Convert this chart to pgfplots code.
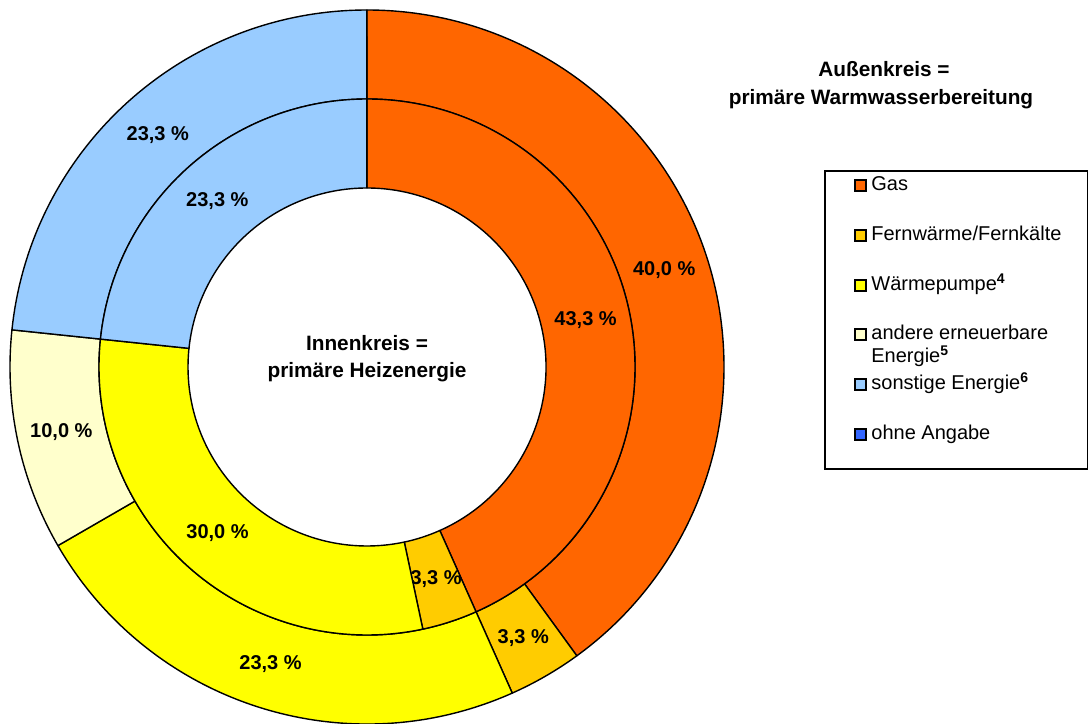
\documentclass[border=0pt]{standalone}
\usepackage{fontspec}
\setmainfont{Liberation Sans}
\usepackage{pgfplots}
\pgfplotsset{compat=1.18}

\definecolor{cGas}{HTML}{FF6600}
\definecolor{cFern}{HTML}{FFCC00}
\definecolor{cWP}{HTML}{FFFF00}
\definecolor{cEE}{HTML}{FFFFCC}
\definecolor{cSonst}{HTML}{99CCFF}
\definecolor{cOhne}{HTML}{3366FF}

% ring: #1 inner radius (pt), #2 outer radius (pt), #3 list value/colour
\newcommand{\ring}[3]{%
  \gdef\cum{0}%
  \pgfmathsetmacro{\W}{#2-#1}%
  \pgfmathsetmacro{\Rm}{(#1+#2)/2}%
  \foreach \v/\c in {#3}{%
    \ifdim\v pt>0pt
      \pgfmathsetmacro{\aone}{90-3.6*\cum}%
      \pgfmathsetmacro{\atwo}{90-3.6*(\cum+\v)}%
      \pgfmathsetmacro{\aback}{\atwo+180}%
      \pgfmathsetmacro{\amid}{(\aone+\atwo)/2}%
      \filldraw[fill=\c, draw=black, line width=0.7pt, line join=round]
        (axis cs:367,357) ++(\aone:#2 pt)
        arc[start angle=\aone, end angle=\atwo, radius=#2 pt]
        -- ++(\aback:\W pt)
        arc[start angle=\atwo, end angle=\aone, radius=#1 pt] -- cycle;
      \path (axis cs:367,357) ++(\amid:\Rm pt) node[font=\bfseries]
        {\pgfmathprintnumber[fixed,fixed zerofill,precision=1,use comma,assume math mode=true]{\v}~\%};
    \fi
    \pgfmathsetmacro{\newcum}{\cum+\v}%
    \global\let\cum\newcum
  }%
}

\newcommand{\legitem}[3]{% #1 baseline px, #2 colour, #3 text
  \filldraw[fill=#2, draw=black, line width=0.7pt]
    (axis cs:855,{724-#1}) rectangle (axis cs:866,{724-#1+11});
  \node[anchor=base west, inner sep=0pt] at (axis cs:871,{724-#1}) {#3};
}

\begin{document}
\begin{tikzpicture}
\begin{axis}[
  scale only axis, width=544.5pt, height=362pt,
  xmin=0, xmax=1089, ymin=0, ymax=724,
  hide axis, clip=false,
]
\addplot[draw=none] coordinates {(0,0) (1089,724)};
\pgfplotsextra{%
  \fontsize{10pt}{12pt}\selectfont
  % outer ring: primaere Warmwasserbereitung
  \ring{134}{178.5}{40.0/cGas, 3.33/cFern, 23.33/cWP, 10.0/cEE, 23.33/cSonst, 0/cOhne}
  % inner ring: primaere Heizenergie
  \ring{89.5}{134}{43.33/cGas, 3.33/cFern, 30.0/cWP, 0/cEE, 23.33/cSonst, 0/cOhne}
  % centre text
  \node[anchor=base, font=\fontsize{10.4pt}{12pt}\bfseries, inner sep=0pt] at (axis cs:367,{724-351}) {Innenkreis =};
  \node[anchor=base, font=\fontsize{10.4pt}{12pt}\bfseries, inner sep=0pt] at (axis cs:367,{724-378}) {primäre Heizenergie};
  % title
  \node[anchor=base, font=\fontsize{10.4pt}{12pt}\bfseries, inner sep=0pt] at (axis cs:884,{724-77}) {Außenkreis =};
  \node[anchor=base, font=\fontsize{10.4pt}{12pt}\bfseries, inner sep=0pt] at (axis cs:881,{724-105}) {primäre Warmwasserbereitung};
  % legend
  \draw[line width=0.6pt] (axis cs:825,{724-171}) rectangle (axis cs:1087.5,{724-469});
  \legitem{191}{cGas}{Gas}
  \legitem{241}{cFern}{Fernwärme/Fernkälte}
  \legitem{291}{cWP}{Wärmepumpe\textsuperscript{\textbf{4}}}
  \legitem{340}{cEE}{andere erneuerbare}
  \node[anchor=base west, inner sep=0pt] at (axis cs:871,{724-363}) {Energie\textsuperscript{\textbf{5}}};
  \legitem{390}{cSonst}{sonstige Energie\textsuperscript{\textbf{6}}}
  \legitem{440}{cOhne}{ohne Angabe}
}
\end{axis}
\pgfresetboundingbox
\path[use as bounding box] (0,0) rectangle (544.5pt,362pt);
\end{tikzpicture}
\end{document}
